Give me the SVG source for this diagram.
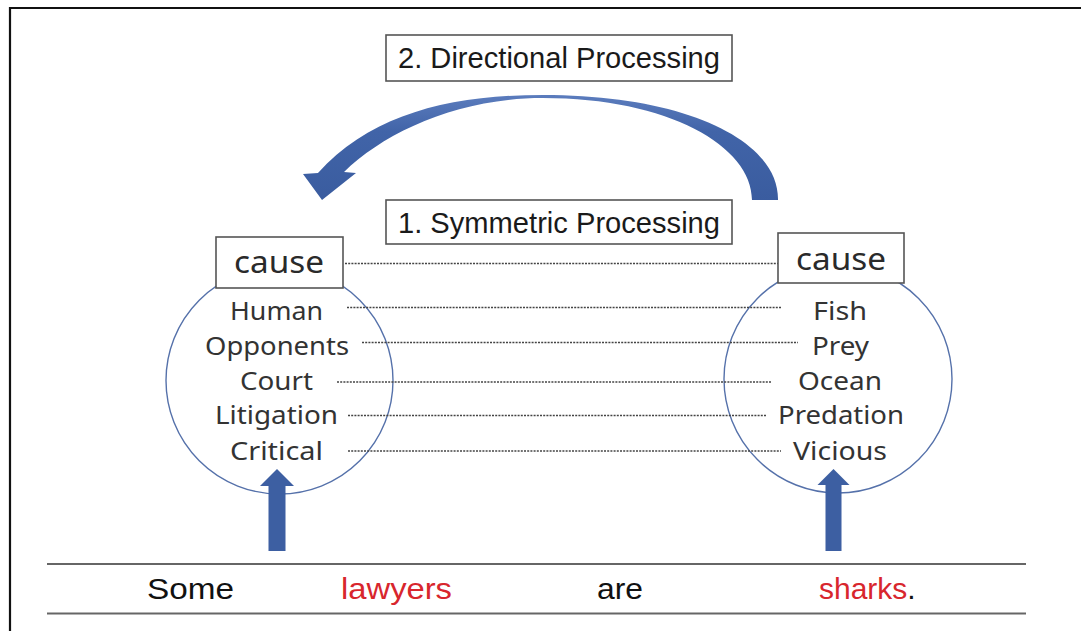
<svg xmlns="http://www.w3.org/2000/svg" width="1081" height="631" viewBox="0 0 1081 631">
  <style>
    .frame { stroke: #111; stroke-width: 2.2; fill: none; }
    .box { fill: #fff; stroke: #555; stroke-width: 1.6; }
    .title { font-family: "Liberation Sans", Arial, sans-serif; font-size: 29px; fill: #1a1a1a; }
    .cause { font-family: "Noto Sans", "Noto Sans CJK JP", sans-serif; font-size: 31px; fill: #2a2a2a; }
    .word { font-family: "Noto Sans", "Noto Sans CJK JP", sans-serif; font-size: 26px; fill: #333; }
    .ring { fill: none; stroke: #5571aa; stroke-width: 1.4; }
    .dots { stroke: #444; stroke-width: 1.3; stroke-dasharray: 2 1.2; fill: none; }
    .rule { stroke: #666; stroke-width: 2; }
    .sent { font-family: "Liberation Sans", Arial, sans-serif; font-size: 30px; fill: #111; }
    .red { fill: #d8262d; }
    .blue { fill: #3d5fa2; }
  </style>
  <defs>
    <linearGradient id="arcFill" x1="0" y1="95" x2="0" y2="200" gradientUnits="userSpaceOnUse">
      <stop offset="0" stop-color="#5b7cbd"/>
      <stop offset="0.35" stop-color="#4164a8"/>
      <stop offset="1" stop-color="#3a5c9f"/>
    </linearGradient>
  </defs>

  <!-- outer frame: top and left edges only -->
  <path class="frame" d="M10,631 V8 H1081"/>

  <!-- concept circles (drawn first so the label boxes sit on top) -->
  <g id="circle-lawyers">
    <circle class="ring" cx="279.5" cy="380.5" r="113.5"/>
  </g>
  <g id="circle-sharks">
    <circle class="ring" cx="838" cy="379" r="114"/>
  </g>

  <!-- connectors -->
  <g id="connectors">
    <!-- feature correspondence lines -->
    <line class="dots" x1="345" y1="263.5" x2="783" y2="263.5"/>
    <line class="dots" x1="347" y1="307.5" x2="782" y2="307.5"/>
    <line class="dots" x1="362" y1="342.5" x2="798" y2="342.5"/>
    <line class="dots" x1="337" y1="382" x2="772" y2="382"/>
    <line class="dots" x1="348" y1="415.5" x2="766" y2="415.5"/>
    <line class="dots" x1="348" y1="451" x2="781" y2="451"/>

    <!-- directional processing arrow, sharks to lawyers; band tapers toward the crest -->
    <path fill="url(#arcFill)" d="M778,200 C779,140 685,95 543,95 C450,95 372,114 318,173 L303,174 L322,200 L356,173 L344,172 C385,132 458,98 543,98 C668,98 752,146 752,200 Z"/>

    <!-- bottom-up arrows from the sentence -->
    <path class="blue" d="M268.5,551 V486 H260 L277,469 L294,486 H285.5 V551 Z"/>
    <path class="blue" d="M825.5,551 V485 H817.5 L833.5,469 L849.5,485 H841.5 V551 Z"/>
  </g>

  <!-- process labels -->
  <g id="label-directional">
    <rect class="box" x="386" y="35" width="346" height="46"/>
    <text class="title" x="398" y="68" textLength="322" lengthAdjust="spacingAndGlyphs">2. Directional Processing</text>
  </g>
  <g id="label-symmetric">
    <rect class="box" x="386" y="200" width="346" height="44"/>
    <text class="title" x="398" y="233" textLength="322" lengthAdjust="spacingAndGlyphs">1. Symmetric Processing</text>
  </g>

  <!-- topic features -->
  <g id="node-lawyers">
    <rect class="box" x="216" y="237" width="127" height="51"/>
    <text class="cause" x="234" y="273" textLength="90" lengthAdjust="spacingAndGlyphs">cause</text>
    <text class="word" x="230" y="320" textLength="93" lengthAdjust="spacingAndGlyphs">Human</text>
    <text class="word" x="205" y="355" textLength="144" lengthAdjust="spacingAndGlyphs">Opponents</text>
    <text class="word" x="240" y="390" textLength="73" lengthAdjust="spacingAndGlyphs">Court</text>
    <text class="word" x="215" y="424" textLength="123" lengthAdjust="spacingAndGlyphs">Litigation</text>
    <text class="word" x="230" y="460" textLength="93" lengthAdjust="spacingAndGlyphs">Critical</text>
  </g>

  <!-- vehicle features -->
  <g id="node-sharks">
    <rect class="box" x="778" y="233" width="126" height="50"/>
    <text class="cause" x="796" y="270" textLength="90" lengthAdjust="spacingAndGlyphs">cause</text>
    <text class="word" x="813" y="320" textLength="54" lengthAdjust="spacingAndGlyphs">Fish</text>
    <text class="word" x="812" y="355" textLength="57" lengthAdjust="spacingAndGlyphs">Prey</text>
    <text class="word" x="798" y="390" textLength="84" lengthAdjust="spacingAndGlyphs">Ocean</text>
    <text class="word" x="778" y="424" textLength="126" lengthAdjust="spacingAndGlyphs">Predation</text>
    <text class="word" x="793" y="460" textLength="94" lengthAdjust="spacingAndGlyphs">Vicious</text>
  </g>

  <!-- metaphor sentence -->
  <g id="sentence">
    <line class="rule" x1="47" y1="564" x2="1026" y2="564"/>
    <line class="rule" x1="47" y1="613.5" x2="1026" y2="613.5"/>
    <text class="sent" x="147" y="599" textLength="87" lengthAdjust="spacingAndGlyphs">Some</text>
    <text class="sent red" x="341" y="599" textLength="111" lengthAdjust="spacingAndGlyphs">lawyers</text>
    <text class="sent" x="597" y="599" textLength="46" lengthAdjust="spacingAndGlyphs">are</text>
    <text class="sent" x="819" y="599"><tspan class="red">sharks</tspan>.</text>
  </g>
</svg>
